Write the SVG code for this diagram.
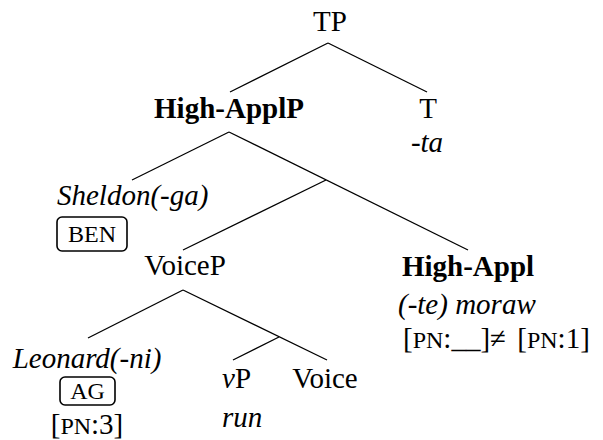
<svg xmlns="http://www.w3.org/2000/svg" width="603" height="440" viewBox="0 0 603 440">
<style>
text{font-family:'Liberation Serif','Times New Roman','DejaVu Serif',serif;font-size:29px;fill:#000}
.b{font-weight:bold}
.i{font-style:italic}
.sc{font-size:24px}
.m{text-anchor:middle}
line{stroke:#000;stroke-width:1.3}
rect.box{fill:none;stroke:#000;stroke-width:1.6}
</style>
<rect width="603" height="440" fill="#fff"/>
<g id="connectors">
<line x1="328" y1="43" x2="230" y2="92"/>
<line x1="328" y1="43" x2="427" y2="92"/>
<line x1="229" y1="132" x2="132" y2="180"/>
<line x1="229" y1="132" x2="468" y2="250"/>
<line x1="326" y1="180" x2="183" y2="250"/>
<line x1="183" y1="290" x2="88" y2="338"/>
<line x1="183" y1="290" x2="327" y2="360"/>
<line x1="279" y1="337" x2="233" y2="360"/>
</g>
<g font-family="Liberation Serif, serif">
<g id="TP"><text class="m" x="330" y="31">TP</text></g>
<g id="HighApplP"><text class="b m" x="229" y="118">High-ApplP</text></g>
<g id="T"><text class="m" x="428" y="118">T</text><text class="i m" x="427" y="152">-ta</text></g>
<g id="Sheldon"><text class="i" x="57" y="205">Sheldon(-ga)</text>
<rect class="box" x="57" y="217" width="70" height="34" rx="5"/>
<text class="sc m" x="92" y="242">BEN</text></g>
<g id="VoiceP"><text class="m" x="185" y="275">VoiceP</text></g>
<g id="HighAppl"><text class="b m" x="468" y="276">High-Appl</text>
<text class="i" x="398" y="314">(-te) moraw</text>
<text x="403" y="348">[<tspan class="sc">PN</tspan>:__]≠ <tspan dx="4">[</tspan><tspan class="sc">PN</tspan>:1]</text></g>
<g id="Leonard"><text class="i m" x="87" y="368">Leonard(-ni)</text>
<rect class="box" x="60" y="377" width="55" height="28" rx="5"/>
<text class="sc m" x="87.5" y="399">AG</text>
<text class="m" x="87" y="434">[<tspan class="sc">PN</tspan>:3]</text></g>
<g id="vP"><text x="222" y="388"><tspan class="i">v</tspan>P</text><text class="i" x="222" y="427">run</text></g>
<g id="Voice"><text class="m" x="325" y="388">Voice</text></g>
</g>
</svg>
